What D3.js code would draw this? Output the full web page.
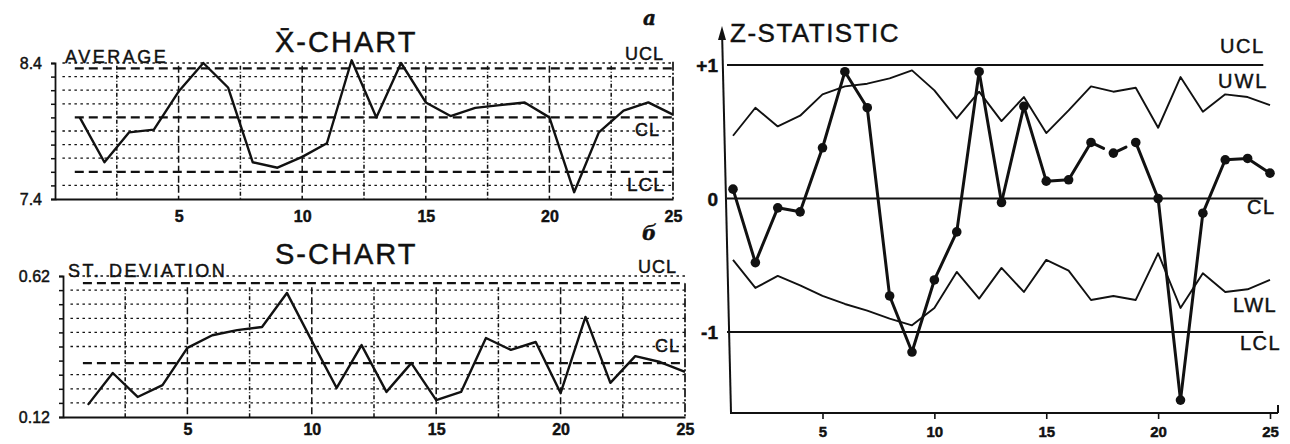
<!DOCTYPE html>
<html>
<head>
<meta charset="utf-8">
<script src="https://cdn.jsdelivr.net/npm/d3@7"></script>
<style>
body { margin: 0; background: #fff; }
svg { font-family: "Liberation Sans", Arial, sans-serif; }
svg text { stroke: #111; stroke-width: 0.45px; }
</style>
</head>
<body>
<svg id="chart" width="1290" height="444"></svg>
<script>
// sample numbers and x tick labels
const samples = [1, 2, 3, 4, 5, 6, 7, 8, 9, 10, 11, 12, 13, 14, 15, 16, 17, 18, 19, 20, 21, 22, 23, 24, 25];
const xTicks = [5, 10, 15, 20, 25];
const vGrid = [2.5, 5, 7.5, 10, 12.5, 15, 17.5, 20, 22.5];

// a) X-bar chart
const xbar = [8.0, 7.67, 7.89, 7.91, 8.19, 8.4, 8.22, 7.67, 7.63, 7.71, 7.81, 8.42, 8.0,
              8.4, 8.11, 8.01, 8.07, 8.09, 8.11, 8.0, 7.45, 7.89, 8.05, 8.11, 8.02];
const xbarLimits = [8.36, 8.0, 7.6];
const xbarLimitLabels = ["UCL", "CL", "LCL"];
const xbarTicks = [7.4, 7.5, 7.6, 7.7, 7.8, 7.9, 8.0, 8.1, 8.2, 8.3, 8.4];
const xbarGrid = [7.5, 7.7, 7.8, 7.9, 8.1, 8.2, 8.3, 8.4];

// b) S chart
const sdev = [0.163, 0.276, 0.191, 0.233, 0.365, 0.41, 0.428, 0.439, 0.56, 0.39, 0.223, 0.375, 0.209,
              0.311, 0.18, 0.209, 0.40, 0.358, 0.386, 0.205, 0.475, 0.241, 0.336, 0.315, 0.28];
const sdevLimits = [0.595, 0.311];
const sdevLimitLabels = ["UCL", "CL"];
const sdevTicks = [0.12, 0.17, 0.22, 0.27, 0.32, 0.37, 0.42, 0.47, 0.52, 0.57, 0.62];
const sdevGrid = [0.17, 0.22, 0.27, 0.37, 0.42, 0.47, 0.52, 0.57, 0.62];

// Z statistic with warning limits
const zstat = [0.07, -0.48, -0.07, -0.1, 0.38, 0.95, 0.68, -0.73, -1.15, -0.61, -0.25, 0.95, -0.03,
               0.69, 0.13, 0.14, 0.42, 0.34, 0.42, 0.0, -1.51, -0.11, 0.29, 0.3, 0.19];
const uwl = [0.47, 0.68, 0.54, 0.62, 0.78, 0.84, 0.86, 0.9, 0.96, 0.81, 0.6, 0.8, 0.58,
             0.76, 0.49, 0.66, 0.84, 0.8, 0.83, 0.53, 0.91, 0.65, 0.78, 0.76, 0.7];
const lwl = [-0.46, -0.67, -0.58, -0.65, -0.73, -0.79, -0.84, -0.9, -0.95, -0.82, -0.55, -0.75, -0.52,
             -0.7, -0.46, -0.54, -0.76, -0.73, -0.76, -0.41, -0.82, -0.56, -0.7, -0.68, -0.61];
const zLimits = [1, 0, -1];
const zTickLabels = ["+1", "0", "-1"];
const brokenSegs = [17, 18];   // segments drawn broken in the original

const ink = "#111";
const svg = d3.select("#chart");

const xA = d3.scaleLinear().domain([0, 25]).range([55, 673]);
const yA = d3.scaleLinear().domain([7.4, 8.4]).range([199, 63]);
const xB = d3.scaleLinear().domain([0, 25]).range([63, 685]);
const yB = d3.scaleLinear().domain([0.12, 0.62]).range([417, 276]);
const xZ = d3.scaleLinear().domain([1, 25]).range([733, 1270]);
const yZ = d3.scaleLinear().domain([-1, 1]).range([332, 65]);

function label(g, txt, x, y, size, spacing) {
  return g.append("text").attr("x", x).attr("y", y)
    .attr("font-size", size).attr("letter-spacing", spacing || 0)
    .attr("fill", ink).text(txt);
}

function drawPanel(x, y, o) {
  const g = svg.append("g");
  const bottom = y.range()[0];

  g.selectAll(".hgrid").data(o.grid).join("line")
    .attr("x1", x(0.3)).attr("x2", x(25))
    .attr("y1", d => y(d)).attr("y2", d => y(d))
    .attr("stroke", ink).attr("stroke-width", 1.3).attr("stroke-dasharray", "2.5,3.5");

  g.selectAll(".vgrid").data(vGrid).join("line")
    .attr("x1", d => x(d)).attr("x2", d => x(d))
    .attr("y1", y(o.vTop)).attr("y2", bottom)
    .attr("stroke", ink).attr("stroke-width", 1.5).attr("stroke-dasharray", (d, i) => i % 2 ? "7,3" : "4,2,1,2");

  // right border
  g.append("line").attr("x1", x(25)).attr("x2", x(25))
    .attr("y1", y(o.vTop) - 4).attr("y2", bottom)
    .attr("stroke", ink).attr("stroke-width", 1.7).attr("stroke-dasharray", "9,2,2,2");

  g.selectAll(".limit").data(o.limits).join("line")
    .attr("x1", x(0.8)).attr("x2", x(25))
    .attr("y1", d => y(d)).attr("y2", d => y(d))
    .attr("stroke", ink).attr("stroke-width", 2.2).attr("stroke-dasharray", "9,5");

  const last = o.ticks.length - 1;
  g.append("g").attr("transform", `translate(${x(0)},0)`)
    .call(d3.axisLeft(y).tickValues(o.ticks).tickSize(4).tickPadding(9)
      .tickFormat((d, i) => (i === 0 || i === last) ? o.fmt(d) : ""))
    .call(a => a.select(".domain").attr("stroke", ink).attr("stroke-width", 1.8))
    .call(a => a.selectAll(".tick line").attr("stroke", ink).attr("stroke-width", 1.5))
    .call(a => a.selectAll("text").attr("font-size", 16).attr("fill", ink).attr("font-family", "Liberation Sans"));

  g.append("g").attr("transform", `translate(0,${bottom})`)
    .call(d3.axisBottom(x).tickValues(xTicks).tickSize(0).tickPadding(o.xPad))
    .call(a => a.select(".domain").attr("stroke", ink).attr("stroke-width", 2))
    .call(a => a.selectAll("text").attr("font-size", 16).attr("font-weight", "bold").attr("fill", ink).attr("font-family", "Liberation Sans"));

  g.append("path").datum(o.values)
    .attr("fill", "none").attr("stroke", ink).attr("stroke-width", 2.4).attr("stroke-linejoin", "round")
    .attr("d", d3.line().x((d, i) => x(samples[i])).y(d => y(d)));
  return g;
}

// ---- a) X-bar chart
const gA = drawPanel(xA, yA, { grid: xbarGrid, limits: xbarLimits, ticks: xbarTicks, vTop: 8.38,
  fmt: d3.format(".1f"), values: xbar, xPad: 12 });
label(gA, "X\u0304-CHART", 275, 52, 29, 2);
label(gA, "AVERAGE", 65, 63, 18, 2.5);
label(gA, xbarLimitLabels[0], 625, yA(xbarLimits[0]) - 8, 18, 1);
label(gA, xbarLimitLabels[1], 635, yA(xbarLimits[1]) + 19, 18, 1);
label(gA, xbarLimitLabels[2], 627, yA(xbarLimits[2]) + 19, 19, 1);
gA.append("text").attr("x", 643).attr("y", 25).attr("font-family", "DejaVu Serif")
  .attr("font-style", "italic").attr("font-weight", "bold").attr("font-size", 20).attr("fill", ink).text("а");

// ---- b) S chart
const gB = drawPanel(xB, yB, { grid: sdevGrid, limits: sdevLimits, ticks: sdevTicks, vTop: 0.58,
  fmt: d3.format(".2f"), values: sdev, xPad: 7 });
label(gB, "S-CHART", 275, 264, 29, 2);
label(gB, "ST. DEVIATION", 68, 277, 18, 2.5);
label(gB, sdevLimitLabels[0], 638, yB(sdevLimits[0]) - 10, 18, 1);
label(gB, sdevLimitLabels[1], 655, yB(sdevLimits[1]) - 11, 18, 1);
gB.append("text").attr("x", 642).attr("y", 240).attr("font-family", "DejaVu Serif")
  .attr("font-style", "italic").attr("font-weight", "bold").attr("font-size", 20).attr("fill", ink).text("б");

// ---- Z statistic
const gZ = svg.append("g");
const zBottom = 413;
gZ.append("line").attr("x1", 722).attr("y1", 30).attr("x2", 731).attr("y2", zBottom)
  .attr("stroke", ink).attr("stroke-width", 2);
gZ.append("path").attr("d", "M718,40 L722,26 L726,40 Z").attr("fill", ink);
gZ.append("line").attr("x1", 730).attr("x2", 1278).attr("y1", zBottom).attr("y2", zBottom)
  .attr("stroke", ink).attr("stroke-width", 2);
gZ.append("line").attr("x1", 1278).attr("x2", 1278).attr("y1", zBottom - 8).attr("y2", zBottom)
  .attr("stroke", ink).attr("stroke-width", 2);

gZ.append("g").attr("transform", `translate(0,${zBottom})`)
  .call(d3.axisBottom(xZ).tickValues(xTicks).tickSize(6).tickPadding(7))
  .call(a => a.select(".domain").remove())
  .call(a => a.selectAll(".tick line").attr("stroke", ink).attr("stroke-width", 1.6))
  .call(a => a.selectAll("text").attr("font-size", 15).attr("font-weight", "bold").attr("fill", ink).attr("font-family", "Liberation Sans"));

gZ.selectAll(".zlim").data(zLimits).join("line")
  .attr("x1", 727).attr("x2", xZ(24.7))
  .attr("y1", d => yZ(d)).attr("y2", d => yZ(d))
  .attr("stroke", ink).attr("stroke-width", 2);

gZ.selectAll(".ztick").data(zLimits).join("text")
  .attr("x", 718).attr("y", d => yZ(d) + 7).attr("text-anchor", "end")
  .attr("font-size", 19).attr("font-weight", "bold").attr("fill", ink)
  .text((d, i) => zTickLabels[i]);

const zLine = d3.line().x((d, i) => xZ(samples[i])).y(d => yZ(d));
[uwl, lwl].forEach(s => gZ.append("path").datum(s)
  .attr("fill", "none").attr("stroke", ink).attr("stroke-width", 1.9).attr("stroke-linejoin", "round")
  .attr("d", zLine));

gZ.selectAll(".zseg").data(d3.pairs(samples.map((s, i) => [s, zstat[i]]))).join("line")
  .attr("x1", d => xZ(d[0][0])).attr("y1", d => yZ(d[0][1]))
  .attr("x2", d => xZ(d[1][0])).attr("y2", d => yZ(d[1][1]))
  .attr("stroke", ink).attr("stroke-width", 3).attr("stroke-linecap", "round")
  .attr("stroke-dasharray", d => brokenSegs.includes(d[0][0]) ? "14,9" : null);

gZ.selectAll(".zdot").data(zstat).join("circle")
  .attr("cx", (d, i) => xZ(samples[i])).attr("cy", d => yZ(d)).attr("r", 4.8)
  .attr("fill", ink);

label(gZ, "Z-STATISTIC", 730, 42, 26, 1.5);
label(gZ, "UCL", 1220, yZ(1) - 12, 20, 1.5);
label(gZ, "UWL", 1218, yZ(1) + 23, 20, 2);
label(gZ, "CL", 1247, yZ(0) + 15, 20, 1.5);
label(gZ, "LWL", 1233, yZ(-1) - 20, 20, 1.5);
label(gZ, "LCL", 1240, yZ(-1) + 18, 20, 1.5);
</script>
</body>
</html>
